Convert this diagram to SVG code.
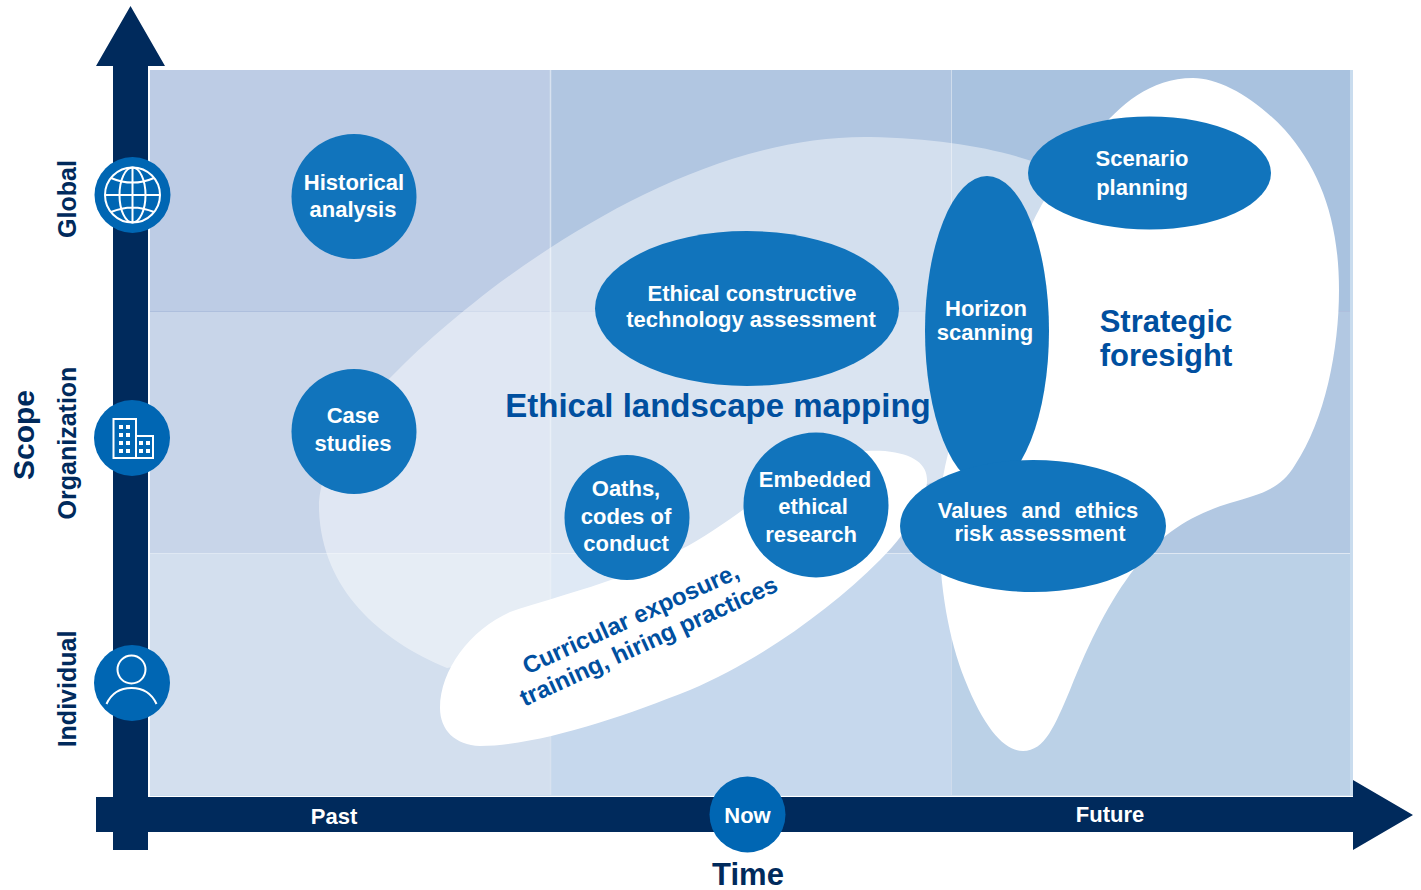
<svg xmlns="http://www.w3.org/2000/svg" width="1421" height="890" viewBox="0 0 1421 890">
<style>
text{font-family:"Liberation Sans",Arial,sans-serif;font-weight:700;text-anchor:middle}
.n{fill:#1174bc}
.ic{fill:#0066b3}
.w{fill:#fff;font-size:22px}
.d{fill:#002a5c;font-size:25px}
.b{fill:#004f9f}
.ln{fill:none;stroke:#fff;stroke-width:2}
</style>
<g id="grid">
<rect x="150" y="70" width="1203" height="726" fill="#c9dcee"/>
<rect x="150" y="70" width="400" height="241" fill="#bdcce5"/>
<rect x="550" y="70" width="401" height="241" fill="#b1c6e1"/>
<rect x="951" y="70" width="399" height="241" fill="#a9c2df"/>
<rect x="150" y="311" width="400" height="242" fill="#c8d5e9"/>
<rect x="550" y="311" width="401" height="242" fill="#bdcfe6"/>
<rect x="951" y="311" width="399" height="242" fill="#b2c8e2"/>
<rect x="150" y="553" width="400" height="242" fill="#d3dfee"/>
<rect x="550" y="553" width="401" height="242" fill="#c6d8ed"/>
<rect x="951" y="553" width="399" height="242" fill="#bbd1e7"/>
<path d="M150 311.5H1350" stroke="#aebfdd" stroke-width="1"/>
<path d="M150 553.5H1350" stroke="#dfe8f3" stroke-width="1"/>
<path d="M550.5 70V795" stroke="#d8e2f0" stroke-width="1.5"/>
<path d="M951.5 70V795" stroke="#cfdcec" stroke-width="1"/>
</g>
<g id="ethical-landscape-mapping">
<path d="M447 668C380 640 322 590 319 510C318 440 400 360 490 290C590 215 730 135 870 137C950 139 1010 150 1060 172L1040 400L945 478L925 485L600 640Z" fill="#fff" fill-opacity=".44"/>
</g>
<g id="strategic-foresight">
<path d="M1193 78C1150 78 1120 105 1095 135C1065 165 1045 195 1030 228C1000 300 950 420 941 490C935 560 945 630 965 680C985 730 1005 751 1023 751C1045 751 1055 725 1070 690C1090 640 1110 600 1135 568C1160 535 1190 515 1230 503C1260 494 1280 490 1295 465C1325 420 1339 350 1339 290C1339 220 1320 170 1285 130C1255 98 1220 78 1193 78Z" fill="#fff"/>
<text class="b" x="1166" y="332" font-size="31">Strategic</text>
<text class="b" x="1166" y="366" font-size="31">foresight</text>
</g>
<g id="curricular">
<path d="M440 708C440 670 470 630 510 612C560 595 620 582 680 550C720 530 760 495 800 470C830 452 860 450 885 451C915 454 928 465 927 482C925 505 905 535 880 560C830 610 760 660 690 690C620 718 540 745 480 746C455 745 440 730 440 708Z" fill="#fff"/>
<g transform="rotate(-24.5 634 626)">
<text class="b" x="634" y="626" font-size="24">Curricular exposure,</text>
<text class="b" x="641" y="654" font-size="24">training, hiring practices</text>
</g>
</g>
<text id="ethical-landscape-label" class="b" x="718" y="417" font-size="33">Ethical landscape mapping</text>
<g id="connectors">
<path id="scope-axis" d="M113 850V66H96L130.500 6L165 66H148V850Z" fill="#002a5c"/>
<path id="time-axis" d="M96 797H1353V780L1413 815L1353 850V832H96Z" fill="#002a5c"/>
</g>
<g id="historical"><circle class="n" cx="354" cy="196.500" r="62.500"/><text class="w" x="354" y="190">Historical</text><text class="w" x="353" y="217">analysis</text></g>
<g id="case"><circle class="n" cx="354" cy="431.500" r="62.500"/><text class="w" x="353" y="423">Case</text><text class="w" x="353" y="451">studies</text></g>
<g id="oaths"><circle class="n" cx="627" cy="517.500" r="62.500"/><text class="w" x="626" y="496">Oaths,</text><text class="w" x="626" y="524">codes of</text><text class="w" x="626" y="551">conduct</text></g>
<g id="embedded"><circle class="n" cx="816" cy="505" r="72.500"/><text class="w" x="815" y="487">Embedded</text><text class="w" x="813" y="514">ethical</text><text class="w" x="811" y="542">research</text></g>
<g id="ecta"><ellipse class="n" cx="747" cy="308.500" rx="152" ry="77.500"/><text class="w" x="752" y="301">Ethical constructive</text><text class="w" x="751" y="327">technology assessment</text></g>
<g id="horizon"><ellipse class="n" cx="987" cy="331" rx="62" ry="155"/><text class="w" x="986" y="316">Horizon</text><text class="w" x="985" y="340">scanning</text></g>
<g id="scenario"><ellipse class="n" cx="1149.500" cy="173" rx="121.500" ry="56.500"/><text class="w" x="1142" y="166">Scenario</text><text class="w" x="1142" y="195">planning</text></g>
<g id="values"><ellipse class="n" cx="1033" cy="526" rx="133" ry="66"/><text class="w" x="1038" y="518" word-spacing="8">Values and ethics</text><text class="w" x="1040" y="541">risk assessment</text></g>
<g id="icon-global"><circle class="ic" cx="132.500" cy="195" r="38"/>
<circle class="ln" cx="132.500" cy="195" r="27.500"/><ellipse class="ln" cx="132.500" cy="195" rx="13" ry="27.500"/><path class="ln" d="M132.500 167.500V222.500M105 195H160M111 178C125 184 140 184 154 178M111 212C125 206 140 206 154 212"/></g>
<g id="icon-organization"><circle class="ic" cx="132" cy="438" r="38"/>
<path class="ln" d="M113.500 458V419H136V458ZM136 436H153V458H113.500"/>
<path fill="#fff" d="M119 425h4v4h-4zM126 425h4v4h-4zM119 433h4v4h-4zM126 433h4v4h-4zM119 441h4v4h-4zM126 441h4v4h-4zM119 449h4v4h-4zM126 449h4v4h-4zM139 441h4v4h-4zM146 441h4v4h-4zM139 449h4v4h-4zM146 449h4v4h-4z"/></g>
<g id="icon-individual"><circle class="ic" cx="132" cy="683" r="38"/>
<circle class="ln" cx="131.500" cy="669.500" r="14"/><path class="ln" d="M106.500 704C112 692 121 688 131.500 688C142 688 151 692 156.500 704"/></g>
<g id="now"><circle class="ic" cx="747.500" cy="814.500" r="38"/><text class="w" x="747.500" y="823">Now</text></g>
<text class="w" x="334" y="824">Past</text>
<text class="w" x="1110" y="822">Future</text>
<text class="d" x="748" y="885" font-size="31" style="font-size:31px">Time</text>
<text class="d" transform="translate(34 435) rotate(-90)" style="font-size:30px">Scope</text>
<text class="d" transform="translate(76 199) rotate(-90)">Global</text>
<text class="d" transform="translate(76 443) rotate(-90)">Organization</text>
<text class="d" transform="translate(76 689) rotate(-90)">Individual</text>
</svg>
